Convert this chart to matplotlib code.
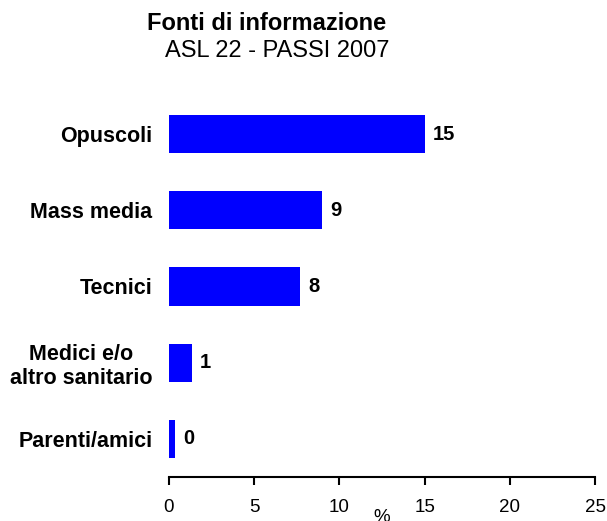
import matplotlib
matplotlib.use('Agg')
import matplotlib.pyplot as plt

plt.rcParams['font.family'] = ['Liberation Sans', 'DejaVu Sans']

categories = ['Opuscoli', 'Mass media', 'Tecnici', 'Medici e/o\naltro sanitario', 'Parenti/amici']
values = [15.0, 9.0, 7.7, 1.35, 0.35]
xticks = [0, 5, 10, 15, 20, 25]

fig = plt.figure(figsize=(6.07, 5.21), dpi=100)
ax = fig.add_axes([169 / 607, 44 / 521, 426 / 607, 381 / 521])

pos = list(range(len(categories)))
ax.barh(pos, values, height=0.5, color='#0000ff')
ax.set_ylim(len(categories) - 0.5, -0.5)
ax.set_xlim(0, 25)

# rounded value next to each bar
for y, v in zip(pos, values):
    ax.text(v + 0.47, y, '%.0f' % v, ha='left', va='center',
            fontsize=14.5, fontweight='bold')

ax.set_yticks(pos)
ax.set_yticklabels(categories, fontsize=15.5, fontweight='bold',
                   ha='right', multialignment='center')
ax.tick_params(axis='y', length=0, pad=12)
ax.set_xticks(xticks)
ax.set_xticklabels([str(t) for t in xticks], fontsize=13.5)
ax.tick_params(axis='x', length=6, width=1.5, pad=10)

for s in ['top', 'right', 'left']:
    ax.spines[s].set_visible(False)
ax.spines['bottom'].set_linewidth(1.5)

ax.set_xlabel('%', fontsize=13.5, labelpad=-5)

fig.text(267 / 607, 1 - 24 / 521, 'Fonti di informazione', ha='center', va='center',
         fontsize=17, fontweight='bold')
fig.text(277 / 607, 1 - 51 / 521, 'ASL 22 - PASSI 2007', ha='center', va='center',
         fontsize=17)

plt.savefig('out.png', dpi=100)
